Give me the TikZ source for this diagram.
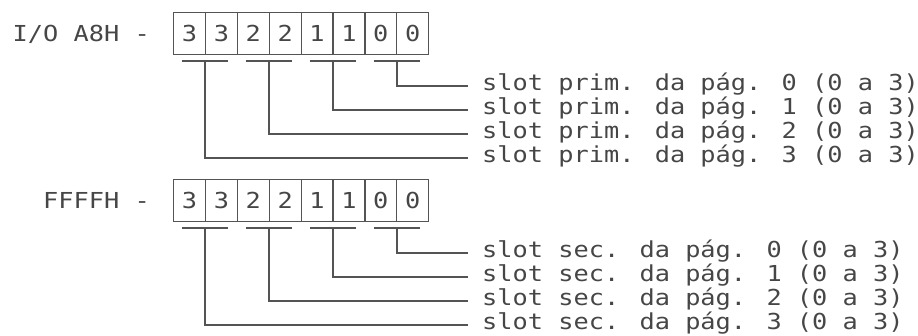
\documentclass[tikz,border=0pt]{standalone}
\usepackage{fontspec}
\newfontfamily\dotmono[FakeStretch=1.15]{DejaVu Sans Mono}
\definecolor{ink}{RGB}{70,70,70}
\definecolor{rule}{RGB}{84,84,84}
\begin{document}
\begin{tikzpicture}[x=1pt,y=-1pt,
  every node/.style={font=\dotmono\fontsize{22}{24}\selectfont, text=ink, inner sep=0pt},
  cell/.style={draw=rule, line width=1.3pt, minimum width=31.875pt, minimum height=42pt,
               anchor=north west, text height=16pt, text depth=0pt},
  regname/.style={anchor=base east},
  slotlabel/.style={anchor=west, text height=14pt, text depth=4pt},
  wire/.style={draw=rule, line width=1.3pt}]
\useasboundingbox (0,0) rectangle (918,336);

% two registers: primary slot select (I/O A8H) and secondary slot select (FFFFH)
\foreach \g/\dy/\reg/\kind in {1/0/{I/O A8H -}/prim., 2/167/{FFFFH -}/sec.} {
  \node[regname] (r\g) at (150,42+\dy) {\reg};
  % the eight bits, two per page
  \foreach \d [count=\i from 0] in {3,3,2,2,1,1,0,0}
    \node[cell] (c\g\i) at (173+31.875*\i,12+\dy) {\d};
  % bit pairs: underline, then a wire down and across to its label
  \foreach \k/\p in {0/3,1/2,2/1,3/0} {
    \coordinate (u\g\k) at (205+64*\k,61+\dy);
    \draw[wire] ([xshift=-23pt]u\g\k) -- ([xshift=23pt]u\g\k);
    \node[slotlabel] (l\g\p) at (482,86+24*\p+\dy) {slot \kind{} da pág. \p{} (0 a 3)};
    \draw[wire] (u\g\k) |- ([xshift=-14pt]l\g\p.west);
  }
}
\end{tikzpicture}
\end{document}
